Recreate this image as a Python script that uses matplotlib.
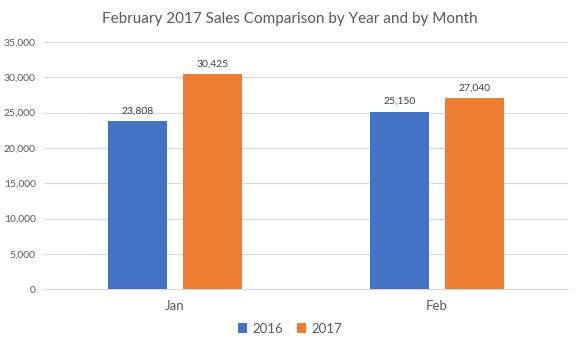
import numpy as np
import matplotlib.pyplot as plt
from matplotlib.ticker import FuncFormatter

months = ["Jan", "Feb"]
sales_2016 = [23808, 25150]
sales_2017 = [30425, 27040]
years = ["2016", "2017"]

plt.rcParams['font.family'] = ['Lato', 'DejaVu Sans']

fig = plt.figure(figsize=(5.8, 3.5), dpi=100)
ax = fig.add_axes([0.076, 0.174, 0.903, 0.706])

x = np.arange(len(months))
w = 0.225
off = 0.143
b1 = ax.bar(x - off, sales_2016, w, color="#4472C4", label=years[0], zorder=3)
b2 = ax.bar(x + off, sales_2017, w, color="#ED7D31", label=years[1], zorder=3)

for bars in (b1, b2):
    for r in bars:
        ax.annotate(f"{int(r.get_height()):,}", (r.get_x() + r.get_width() / 2, r.get_height()),
                    xytext=(0, 4), textcoords="offset points", ha="center", va="bottom",
                    fontsize=7.5, color="#404040")

ax.set_xlim(-0.5, 1.5)
ax.set_ylim(0, 35000)
ax.set_yticks(np.arange(0, 35001, 5000))
ax.yaxis.set_major_formatter(FuncFormatter(lambda v, p: f"{int(v):,}"))
ax.set_xticks(x)
ax.set_xticklabels(months)
ax.grid(axis="y", color="#D9D9D9", linewidth=0.8, zorder=0)
for s in ["top", "right", "left"]:
    ax.spines[s].set_visible(False)
ax.spines["bottom"].set_color("#D9D9D9")
ax.tick_params(axis="y", length=0, labelsize=7.5, labelcolor="#595959", pad=6)
ax.tick_params(axis="x", length=0, labelsize=9.5, labelcolor="#595959", pad=8)

fig.suptitle("February 2017 Sales Comparison by Year and by Month", y=0.965,
             fontsize=11, color="#595959")
fig.legend(loc="lower center", bbox_to_anchor=(0.5, 0.01), ncol=2, frameon=False,
           fontsize=9.5, labelcolor="#595959", handlelength=0.7, handleheight=0.7,
           columnspacing=1.0, handletextpad=0.4)

fig.savefig("out.png", dpi=100)
